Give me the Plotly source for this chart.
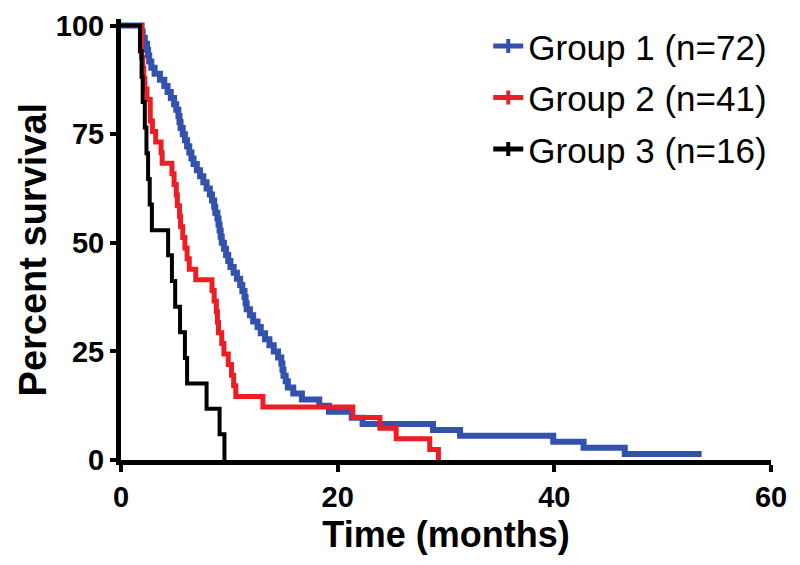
import plotly.graph_objects as go

# Group 1 (blue) Kaplan-Meier steps: time (months) at which survival drops to value
g1_time = [0, 1.9, 2.0, 2.2, 2.4, 2.5, 2.6, 2.8, 3.1, 3.6, 4.0, 4.3, 4.6, 4.9, 5.1, 5.3, 5.4, 5.5,
           5.7, 5.9, 6.1, 6.3, 6.5, 6.7, 7.0, 7.3, 7.6, 7.9, 8.2, 8.4, 8.6, 8.7, 8.9, 9.0, 9.1,
           9.2, 9.3, 9.5, 9.7, 9.9, 10.1, 10.4, 10.7, 11.0, 11.2, 11.4, 11.5, 11.6, 11.9, 12.2,
           12.6, 12.9, 13.3, 13.7, 14.1, 14.5, 14.8, 14.9, 15.0, 15.2, 15.4, 15.9, 16.7, 18.3,
           19.2, 21.3, 22.3, 28.8, 31.3, 39.9, 42.7, 46.5, 53.6]
g1_surv = [100, 98.6, 97.2, 95.8, 94.4, 93.1, 91.7, 90.3, 88.9, 87.5, 86.1, 84.7, 83.3, 81.9,
           80.6, 79.2, 77.8, 76.4, 75.0, 73.6, 72.2, 70.8, 69.4, 68.1, 66.7, 65.3, 63.9, 62.5,
           61.1, 59.7, 58.3, 56.9, 55.6, 54.2, 52.8, 51.4, 50.0, 48.6, 47.2, 45.8, 44.4, 43.1,
           41.7, 40.3, 38.9, 37.5, 36.1, 34.7, 33.3, 31.9, 30.6, 29.2, 27.8, 26.4, 25.0, 23.6,
           22.2, 20.8, 19.4, 18.1, 16.7, 15.3, 13.9, 12.5, 11.1, 9.7, 8.3, 6.9, 5.6, 4.2, 2.8,
           1.4, 1.4]

# Group 2 (red)
g2_time = [0, 1.9, 2.0, 2.1, 2.2, 2.4, 2.7, 2.9, 3.2, 3.7, 3.8, 4.7, 4.9, 5.1, 5.2, 5.4, 5.5,
           5.7, 5.9, 6.1, 6.3, 6.9, 8.4, 8.6, 8.8, 8.9, 9.0, 9.3, 9.5, 9.9, 10.2, 10.4, 10.6,
           13.1, 21.4, 23.9, 25.4, 28.5, 29.3]
g2_surv = [100, 92.7, 90.2, 87.8, 85.4, 83.0, 78.0, 75.6, 73.2, 70.7, 68.3, 65.9, 63.4, 61.0,
           58.5, 56.1, 53.7, 51.2, 48.8, 46.3, 43.9, 41.5, 39.0, 36.6, 34.1, 31.7, 29.3, 26.8,
           24.4, 22.0, 19.5, 17.1, 14.6, 12.2, 9.8, 7.3, 4.9, 2.4, 0]

# Group 3 (black)
g3_time = [0, 1.75, 1.9, 2.0, 2.2, 2.35, 2.5, 2.65, 2.85, 4.35, 4.7, 5.0, 5.45, 5.9, 6.1, 7.9,
           9.1, 9.55]
g3_surv = [100, 94.1, 88.2, 82.4, 76.5, 70.6, 64.7, 58.8, 52.9, 47.1, 41.2, 35.3, 29.4, 23.5,
           17.6, 11.8, 5.9, 0]

names = ["Group 1 (n=72)", "Group 2 (n=41)", "Group 3 (n=16)"]
colors = ["#3352ad", "#ee1c25", "#000000"]
widths = [6, 5, 4]

x_ticks = [0, 20, 40, 60]
y_ticks = [0, 25, 50, 75, 100]

FONT = "Liberation Sans, Arial, sans-serif"

fig = go.Figure()
series = [(g1_time, g1_surv), (g2_time, g2_surv), (g3_time, g3_surv)]
for (t, s), nm, c, w in zip(series, names, colors, widths):
    fig.add_trace(go.Scatter(x=t, y=s, mode="lines", line=dict(color=c, width=w, shape="hv"),
                             showlegend=False, hoverinfo="skip"))
for i, (nm, c) in enumerate(zip(names, colors)):
    fig.add_trace(go.Scatter(x=[None], y=[None], mode="lines+markers", name=nm,
                             legendgroup=f"g{i}",
                             line=dict(color=c, width=5),
                             marker=dict(symbol="line-ns", size=10,
                                         line=dict(color=c, width=4))))

# page body has an 8px margin: figure is 792x557 placed at (8, 8)
fig.update_layout(
    width=792, height=557,
    margin=dict(l=113, r=29, t=10.5, b=105, autoexpand=False),
    paper_bgcolor="white", plot_bgcolor="white",
    font=dict(family=FONT, color="black"),
    showlegend=True,
    legend=dict(x=0.565, y=1.005, xanchor="left", yanchor="top",
                font=dict(family=FONT, size=35, color="black"),
                bgcolor="rgba(0,0,0,0)", itemwidth=30,
                traceorder="grouped", tracegroupgap=3),
    xaxis=dict(range=[0, 60], tickvals=x_ticks, showgrid=False, zeroline=False,
               automargin=False,
               showline=True, linecolor="black", linewidth=5,
               ticks="outside", ticklen=7, tickwidth=4, tickcolor="black",
               tickfont=dict(family=FONT, size=29, color="black", weight="bold"),
               title=dict(text="<b>Time (months)</b>", standoff=12,
                          font=dict(family=FONT, size=36, color="black"))),
    yaxis=dict(range=[0, 101.5], tickvals=y_ticks, showgrid=False, zeroline=False,
               automargin=False,
               showline=True, linecolor="black", linewidth=5,
               ticks="outside", ticklen=6, tickwidth=4, tickcolor="black",
               tickfont=dict(family=FONT, size=29, color="black", weight="bold")),
    annotations=[dict(text="<b>Percent survival</b>", textangle=-90,
                      xref="paper", yref="paper", x=-0.135, y=0.478,
                      xanchor="center", yanchor="middle", showarrow=False,
                      font=dict(family=FONT, size=38, color="black"))],
)

fig.write_html("out.html")
